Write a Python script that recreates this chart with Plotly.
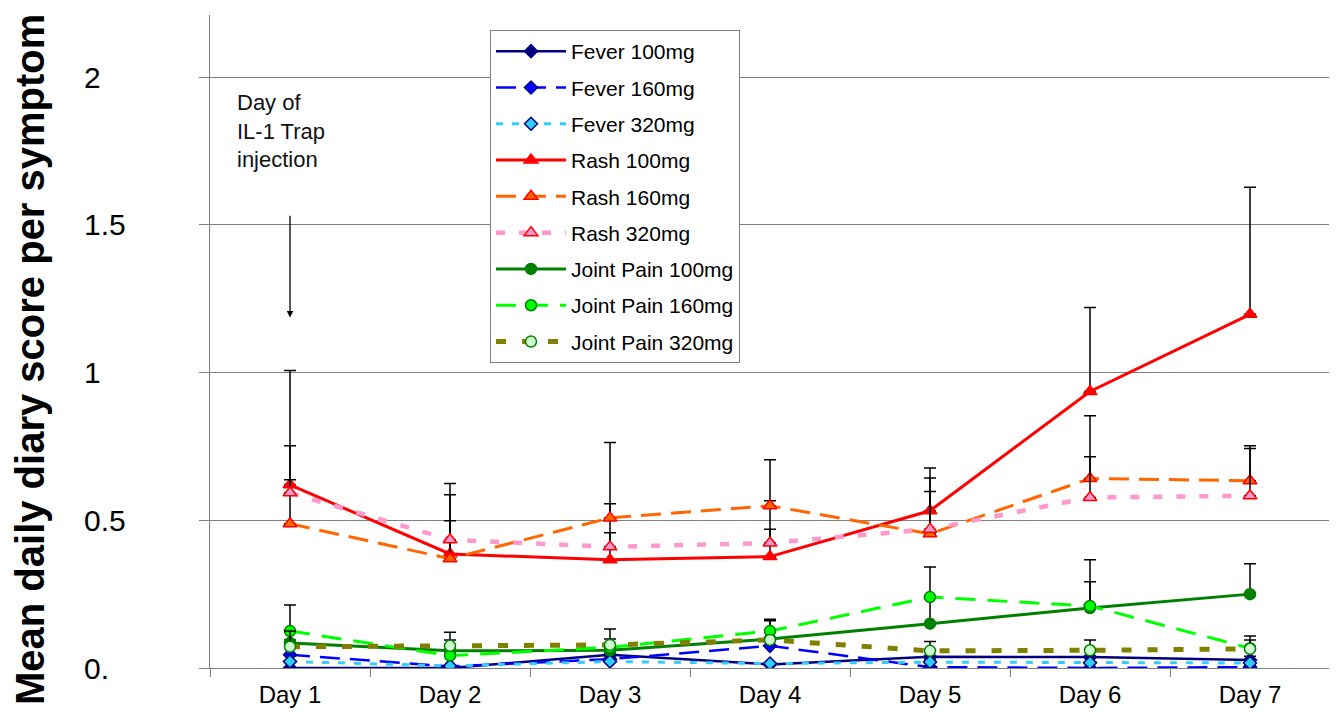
import plotly.graph_objects as go

days = ["Day 1", "Day 2", "Day 3", "Day 4", "Day 5", "Day 6", "Day 7"]

fever_100 = [0.0, 0.0, 0.045, 0.012, 0.038, 0.037, 0.027]
fever_160 = [0.045, 0.005, 0.03, 0.075, 0.003, 0.0, 0.003]
fever_320 = [0.022, 0.007, 0.022, 0.015, 0.02, 0.018, 0.017]
rash_100 = [0.62, 0.386, 0.366, 0.377, 0.532, 0.936, 1.197]
rash_160 = [0.488, 0.37, 0.508, 0.549, 0.454, 0.641, 0.634]
rash_320 = [0.593, 0.434, 0.41, 0.423, 0.47, 0.577, 0.583]
jp_100 = [0.085, 0.058, 0.06, 0.098, 0.15, 0.203, 0.25]
jp_160 = [0.125, 0.042, 0.07, 0.125, 0.24, 0.21, 0.067]
jp_320 = [0.072, 0.075, 0.078, 0.095, 0.058, 0.06, 0.065]

fever_100_err = [None, None, None, None, None, None, 0.013]
fever_160_err = [None, None, None, None, None, None, None]
fever_320_err = [None, None, None, None, 0.007, None, None]
rash_100_err = [0.387, 0.2, 0.19, 0.189, 0.145, 0.284, 0.43]
rash_160_err = [0.149, 0.254, 0.255, 0.156, 0.189, 0.213, 0.118]
rash_320_err = [0.159, 0.064, 0.048, 0.047, 0.127, 0.138, 0.16]
jp_100_err = [0.01, None, None, 0.067, 0.192, 0.163, 0.103]
jp_160_err = [0.088, 0.053, 0.028, 0.035, None, 0.082, 0.041]
jp_320_err = [0.053, 0.046, 0.054, None, 0.032, 0.035, 0.03]

y_tick_vals = [0, 0.5, 1, 1.5, 2]
y_tick_text = ["0.", "0.5", "1", "1.5", "2"]

series = [
    ("Fever 100mg", fever_100, fever_100_err, "#000080", "solid", 2.5, "diamond", 10, "#000080", "#000080"),
    ("Fever 160mg", fever_160, fever_160_err, "#0000FF", "20px,10px", 2.5, "diamond", 10, "#0000FF", "#000080"),
    ("Fever 320mg", fever_320, fever_320_err, "#33CCFF", "7px,9px", 3, "diamond", 10, "#33CCFF", "#000080"),
    ("Rash 100mg", rash_100, rash_100_err, "#FF0000", "solid", 3, "triangle-up", 12, "#FF0000", "#FF0000"),
    ("Rash 160mg", rash_160, rash_160_err, "#FF6600", "20px,10px", 3, "triangle-up", 12, "#FF6600", "#FF0000"),
    ("Rash 320mg", rash_320, rash_320_err, "#FF99CC", "9px,14px", 4.5, "triangle-up", 12, "#FF99CC", "#FF0000"),
    ("Joint Pain 100mg", jp_100, jp_100_err, "#008000", "solid", 3, "circle", 11, "#008000", "#008000"),
    ("Joint Pain 160mg", jp_160, jp_160_err, "#00FF00", "20px,12px", 3, "circle", 11, "#00FF00", "#008000"),
    ("Joint Pain 320mg", jp_320, jp_320_err, "#808000", "10px,16px", 5, "circle", 11, "#CCFFCC", "#008000"),
]

fig = go.Figure()
for i, (name, vals, err, col, dash, lw, sym, msz, mfill, mline) in enumerate(series):
    fig.add_trace(go.Scatter(
        x=days, y=vals, name=name, mode="lines+markers",
        legendgroup="g%d" % i,
        line=dict(color=col, dash=dash, width=lw),
        marker=dict(symbol=sym, size=msz, color=mfill, line=dict(color=mline, width=1.5)),
        error_y=dict(type="data", symmetric=False, array=err,
                     arrayminus=[0] * len(err), color="black", thickness=1.5, width=6),
    ))

annotations = []
for v, t in zip(y_tick_vals, y_tick_text):
    annotations.append(dict(xref="paper", yref="y", x=(82 - 210) / 1120, y=v,
                            xanchor="left", yanchor="middle", text=t, showarrow=False,
                            font=dict(size=30, color="black")))
annotations.append(dict(xref="paper", yref="paper", x=(30 - 210) / 1120, y=(668 - 360) / 653,
                        text="<b>Mean daily diary score per symptom</b>", textangle=-90,
                        showarrow=False, font=dict(size=40, color="black"),
                        xanchor="center", yanchor="middle"))
annotations.append(dict(xref="paper", yref="paper", x=(235 - 210) / 1120, y=(668 - 88) / 653,
                        text="Day of<br>IL-1 Trap<br>injection", align="left",
                        xanchor="left", yanchor="top", showarrow=False,
                        font=dict(size=22, color="#111111")))
annotations.append(dict(x="Day 1", y=1.186, ax="Day 1", ay=1.536, xref="x", yref="y",
                        axref="x", ayref="y", text="", showarrow=True,
                        arrowhead=2, arrowsize=1, arrowwidth=1.3, arrowcolor="black"))

fig.update_layout(
    width=1337, height=724,
    margin=dict(l=202, r=15, t=7, b=64),
    paper_bgcolor="white", plot_bgcolor="white",
    font=dict(family="Liberation Sans, Arial, sans-serif", color="black"),
    showlegend=True,
    legend=dict(x=(490 - 210) / 1120, y=(668 - 30) / 653, xanchor="left", yanchor="top",
                bgcolor="white", bordercolor="#808080", borderwidth=1,
                font=dict(size=21, color="black"), itemwidth=70, tracegroupgap=6,
                traceorder="grouped"),
    annotations=annotations,
)
fig.update_xaxes(type="category", range=[-0.5, 6.5], tickson="boundaries", ticks="outside",
                 ticklen=8, tickcolor="#808080", showline=True, linecolor="#808080", linewidth=1,
                 showgrid=False, tickfont=dict(size=24, color="black"), ticklabelstandoff=5,
                 fixedrange=True)
fig.update_yaxes(range=[0, 2.21], tickvals=y_tick_vals, showticklabels=False, ticks="outside",
                 ticklen=10, tickcolor="#808080", showline=True, linecolor="#808080", linewidth=1,
                 showgrid=True, gridcolor="#808080", gridwidth=1, zeroline=False)

fig.write_html("out.html")
